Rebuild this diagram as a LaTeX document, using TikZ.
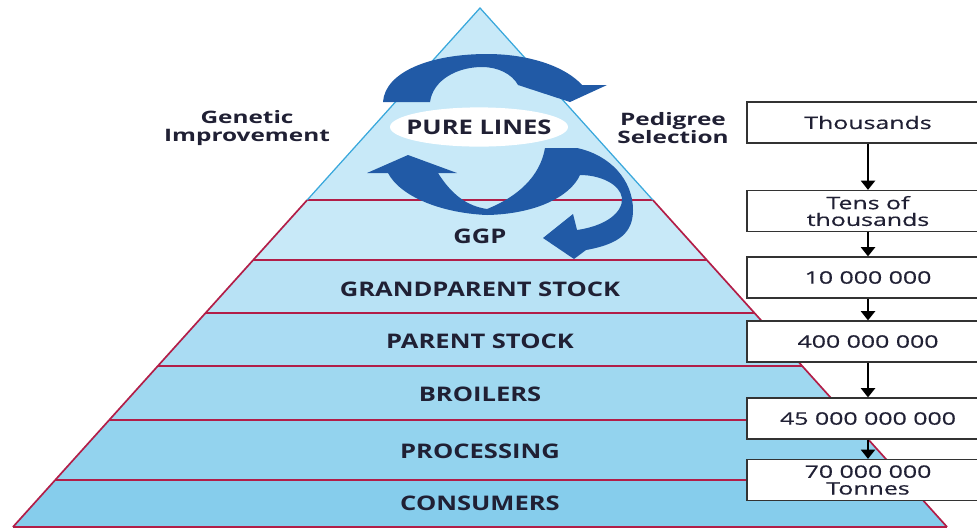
\documentclass[tikz,border=0pt]{standalone}
\usepackage{fontspec}
\setmainfont{Open Sans}
\newfontfamily\layerfont[FakeStretch=1.27]{Open Sans}
\newfontfamily\sidefont[FakeStretch=1.42]{Open Sans}
\newfontfamily\countfont[FakeStretch=1.45,FakeBold=0.5]{Open Sans}
\usetikzlibrary{arrows.meta,shapes.geometric}

\definecolor{ink}{RGB}{32,32,52}
\definecolor{loopblue}{RGB}{33,90,166}
\definecolor{bandline}{RGB}{178,30,72}
\definecolor{edgeblue}{RGB}{58,168,220}
\definecolor{paletop}{RGB}{200,233,248}
\definecolor{palebottom}{RGB}{134,205,236}

\begin{document}
\begin{tikzpicture}[x=0.025cm,y=-0.025cm]
        \tikzstyle{layer}=[text=ink,font=\layerfont\fontsize{14.3}{16}\selectfont\bfseries]
        \tikzstyle{side}=[text=ink,align=center,font=\sidefont\fontsize{12.2}{12.2}\selectfont\bfseries]
        \tikzstyle{count}=[rectangle,draw=black!80,fill=white,line width=0.9pt,minimum width=6.05cm,minimum height=1.025cm,inner sep=0pt,align=center,text=ink,font=\countfont\fontsize{12.2}{11.9}\selectfont]
        \tikzstyle{flow}=[line width=1.3pt,-{Triangle[width=10pt,length=6.5pt]}]
        \useasboundingbox (0,0) rectangle (977,529);
        \fill [paletop] (480,8) -- (307.2,200) -- (652.8,200) -- cycle;
        \foreach \ya/\yb/\p in {200/260/0, 260/313/25, 313/366/45, 366/420/62, 420/480/80, 480/527/100}
            \fill [palebottom!\p!paletop] ({480-0.9*(\ya-8)},\ya) -- ({480+0.9*(\ya-8)},\ya) -- ({480+0.9*(\yb-8)},\yb) -- ({480-0.9*(\yb-8)},\yb) -- cycle;
        \foreach \y in {200,260,313,366,420,480,527}
            \draw [bandline,line width=1.4pt] ({480-0.9*(\y-8)},\y) -- ({480+0.9*(\y-8)},\y);
        \draw [bandline,line width=1.2pt] (307.2,200) -- (12.9,527);
        \draw [bandline,line width=1.2pt] (652.8,200) -- (947.1,527);
        \draw [edgeblue,line width=0.9pt] (307.2,200) -- (480,8) -- (652.8,200);
        \fill [loopblue] (383,102) .. controls (385,72) and (430,54) .. (487,54) .. controls (530,54) and (566,67) .. (582,85) -- (607,85) -- (570,102) -- (518,85) .. controls (512,74) and (498,67) .. (482,67) .. controls (457,67) and (433,80) .. (430,102) -- cycle;
        \fill [loopblue] (367,173) -- (408,155) -- (457,173) -- (438,173) .. controls (452,195) and (467,206) .. (487,209) .. controls (517,197) and (540,177) .. (545,148) -- (577,148) .. controls (610,155) and (633,180) .. (633,210) .. controls (633,232) and (620,244) .. (586,250) -- (574,259) -- (543,238) -- (573,214) -- (577,230) .. controls (605,226) and (623,213) .. (622,198) .. controls (620,184) and (600,175) .. (580,175) .. controls (570,197) and (535,214) .. (487,215) .. controls (440,213) and (400,196) .. (388,173) -- cycle;
        \node [ellipse,fill=white,minimum width=4.45cm,minimum height=0.98cm,inner sep=0pt,layer] (pure) at (479,127) {\makebox[0pt]{PURE LINES}};
        \node [layer] (ggp) at (480,236) {GGP};
        \node [layer] (gps) at (480,289) {GRANDPARENT STOCK};
        \node [layer] (ps) at (480,341) {PARENT STOCK};
        \node [layer] (broilers) at (480,394) {BROILERS};
        \node [layer] (processing) at (480,451) {PROCESSING};
        \node [layer] (consumers) at (480,503) {CONSUMERS};
        \node [side] (genetic) at (247,128) {Genetic\\Improvement};
        \node [side] (pedigree) at (673,128) {Pedigree\\Selection};
        \node [count] (n1) at (868,122.5) {Thousands};
        \node [count] (n2) at (868,211) {Tens of\\thousands};
        \node [count] (n3) at (868,277.5) {10 000 000};
        \node [count] (n4) at (868,341.5) {400 000 000};
        \node [count] (n5) at (868,418.5) {45 000 000 000};
        \node [count] (n6) at (868,480) {70 000 000\\Tonnes};
        \draw [flow] (n1) -- (n2);
        \draw [flow] (n2) -- (n3);
        \draw [flow] (n3) -- (n4);
        \draw [flow] (n4) -- (n5);
        \draw [flow] (n5) -- (n6);
\end{tikzpicture}
\end{document}
